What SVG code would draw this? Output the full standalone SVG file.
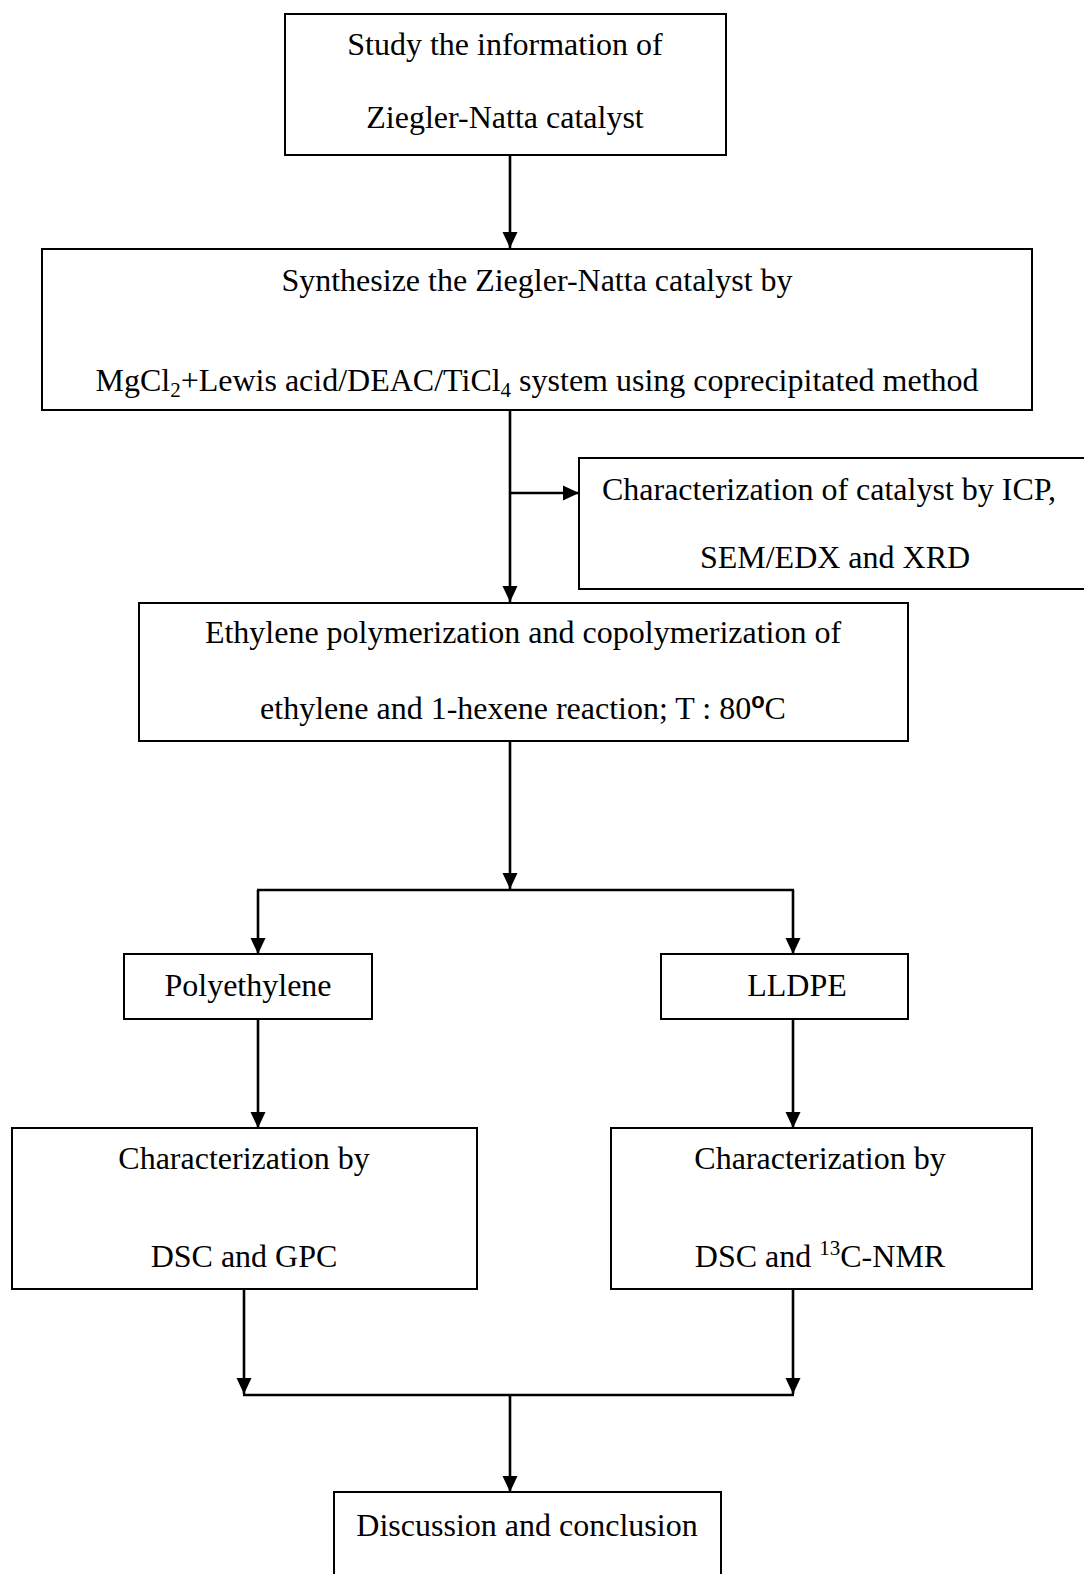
<svg xmlns="http://www.w3.org/2000/svg" width="1084" height="1574" viewBox="0 0 1084 1574">
<style>
.box{fill:#fff;stroke:#000;stroke-width:2}
.t{font-family:"Liberation Serif","Times New Roman",serif;font-size:32px;fill:#000;text-anchor:middle}
.c{fill:none;stroke:#000;stroke-width:2.6}
</style>
<defs>
<marker id="ah" markerUnits="userSpaceOnUse" markerWidth="17" markerHeight="16" refX="16" refY="8" orient="auto">
<path d="M0,0.5 L16,8 L0,15.5 z" fill="#000"/>
</marker>
</defs>
<rect width="1084" height="1574" fill="#fff"/>
<g id="connectors">
<line class="c" x1="510" y1="155" x2="510" y2="248" marker-end="url(#ah)"/>
<line class="c" x1="510" y1="410" x2="510" y2="602" marker-end="url(#ah)"/>
<line class="c" x1="510" y1="493" x2="579" y2="493" marker-end="url(#ah)"/>
<line class="c" x1="510" y1="741" x2="510" y2="889" marker-end="url(#ah)"/>
<line class="c" x1="257" y1="890" x2="794" y2="890"/>
<line class="c" x1="258" y1="890" x2="258" y2="954" marker-end="url(#ah)"/>
<line class="c" x1="793" y1="890" x2="793" y2="954" marker-end="url(#ah)"/>
<line class="c" x1="258" y1="1019" x2="258" y2="1128" marker-end="url(#ah)"/>
<line class="c" x1="793" y1="1019" x2="793" y2="1128" marker-end="url(#ah)"/>
<line class="c" x1="244" y1="1289" x2="244" y2="1394" marker-end="url(#ah)"/>
<line class="c" x1="793" y1="1289" x2="793" y2="1394" marker-end="url(#ah)"/>
<line class="c" x1="243" y1="1395" x2="794" y2="1395"/>
<line class="c" x1="510" y1="1395" x2="510" y2="1492" marker-end="url(#ah)"/>
</g>
<g id="n1">
<rect class="box" x="285" y="14" width="441" height="141"/>
<text class="t" x="505" y="55">Study the information of</text>
<text class="t" x="505" y="128">Ziegler-Natta catalyst</text>
</g>
<g id="n2">
<rect class="box" x="42" y="249" width="990" height="161"/>
<text class="t" x="537" y="291">Synthesize the Ziegler-Natta catalyst by</text>
<text class="t" x="537" y="391">MgCl<tspan font-size="21" dy="6">2</tspan><tspan dy="-6">+Lewis acid/DEAC/TiCl</tspan><tspan font-size="21" dy="6">4</tspan><tspan dy="-6"> system using coprecipitated method</tspan></text>
</g>
<g id="n3">
<rect class="box" x="579" y="458" width="520" height="131"/>
<text class="t" x="829" y="500">Characterization of catalyst by ICP,</text>
<text class="t" x="835" y="568">SEM/EDX and XRD</text>
</g>
<g id="n4">
<rect class="box" x="139" y="603" width="769" height="138"/>
<text class="t" x="523" y="643">Ethylene polymerization and copolymerization of</text>
<text class="t" x="523" y="719">ethylene and 1-hexene reaction; T : 80<tspan font-family="Liberation Sans, Arial, sans-serif" font-weight="bold" font-size="22" dy="-11">o</tspan><tspan dy="11">C</tspan></text>
</g>
<g id="n5">
<rect class="box" x="124" y="954" width="248" height="65"/>
<text class="t" x="248" y="996">Polyethylene</text>
</g>
<g id="n6">
<rect class="box" x="661" y="954" width="247" height="65"/>
<text class="t" x="797" y="996">LLDPE</text>
</g>
<g id="n7">
<rect class="box" x="12" y="1128" width="465" height="161"/>
<text class="t" x="244" y="1169">Characterization by</text>
<text class="t" x="244" y="1267">DSC and GPC</text>
</g>
<g id="n8">
<rect class="box" x="611" y="1128" width="421" height="161"/>
<text class="t" x="820" y="1169">Characterization by</text>
<text class="t" x="820" y="1267">DSC and <tspan font-size="21" dy="-12">13</tspan><tspan dy="12">C-NMR</tspan></text>
</g>
<g id="n9">
<rect class="box" x="334" y="1492" width="387" height="110"/>
<text class="t" x="527" y="1536">Discussion and conclusion</text>
</g>
</svg>
